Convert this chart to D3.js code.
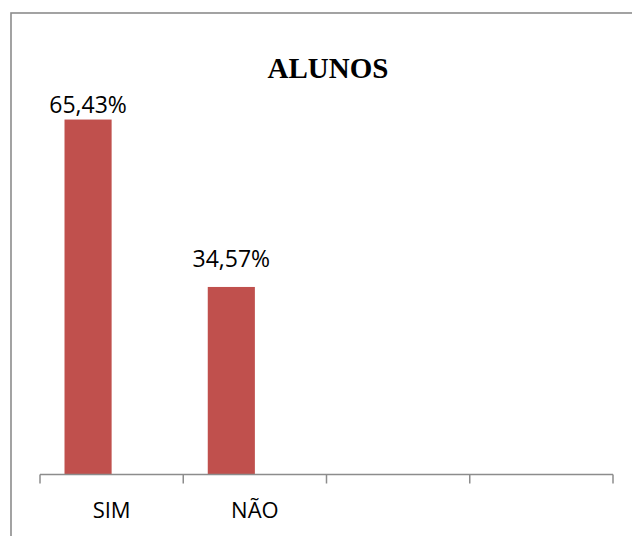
<!DOCTYPE html>
<html>
<head>
<meta charset="utf-8">
<script src="https://cdn.jsdelivr.net/npm/d3@7"></script>
<style>
  html, body { margin: 0; padding: 0; background: #fff; }
  svg { display: block; }
</style>
</head>
<body>
<div class="chart"></div>
<script>
// chart data
const title = 'ALUNOS';
const categories = ['SIM', 'NÃO', '', ' '];
const seriesNames = ['Alunos', 'vazio'];
const seriesValues = [65.43, 34.57, null, null];
const emptySeries = [null, null, null, null];
const valueLabels = ['65,43%', '34,57%', '', ''];

const width = 632;
const height = 536;
const plotLeft = 40, plotRight = 613;
const baseY = 474.5;

const svg = d3.select('.chart')
  .append('svg')
  .attr('width', width)
  .attr('height', height);

// outer frame
svg.append('rect')
  .attr('x', 11)
  .attr('y', 13)
  .attr('width', 640)
  .attr('height', 560)
  .attr('fill', 'none')
  .attr('stroke', '#8c8c8c')
  .attr('stroke-width', 1.6);

svg.append('text')
  .attr('x', 328)
  .attr('y', 78)
  .attr('text-anchor', 'middle')
  .style('font-family', '"Liberation Serif", "Times New Roman", serif')
  .style('font-weight', 'bold')
  .style('font-size', '29px')
  .text(title);

let x = d3.scaleBand()
  .domain(categories)
  .range([plotLeft, plotRight])
  .paddingInner(0)
  .paddingOuter(0);

// two series per slot, the second one is empty
let x1 = d3.scaleBand()
  .domain(seriesNames)
  .range([0, x.bandwidth()])
  .paddingInner(0)
  .paddingOuter(0.52);

let y = d3.scaleLinear()
  .domain([0, 70])
  .range([baseY, baseY - 70 * 5.425]);

let rows = categories.map(function(c, i) {
  return {cat: c, values: [seriesValues[i], emptySeries[i]], label: valueLabels[i]};
});

let groups = svg.selectAll('.grp')
  .data(rows)
  .enter()
  .append('g')
  .attr('class', 'grp')
  .attr('transform', function(d) { return 'translate(' + x(d.cat) + ',0)'; });

groups.selectAll('rect')
  .data(function(d) {
    return d.values.map(function(v, j) { return {s: seriesNames[j], v: v}; })
      .filter(function(e) { return e.v != null; });
  })
  .enter()
  .append('rect')
  .attr('x', function(e) { return x1(e.s); })
  .attr('width', x1.bandwidth())
  .attr('y', function(e) { return y(e.v); })
  .attr('height', function(e) { return baseY - y(e.v); })
  .attr('fill', '#C0504D');

// data labels, kept inside the plot area
groups.filter(function(d) { return d.values[0] != null; })
  .append('text')
  .attr('x', x1(seriesNames[0]) + x1.bandwidth() / 2)
  .attr('y', function(d) { return Math.max(y(d.values[0]) - 20, 113); })
  .attr('text-anchor', 'middle')
  .style('font-family', '"Open Sans", sans-serif')
  .style('font-size', '23px')
  .attr('fill', '#000')
  .text(function(d) { return d.label; });

// category axis
let axis = d3.axisBottom(x).tickSize(9).tickFormat('');
let axisG = svg.append('g')
  .attr('transform', 'translate(0,' + baseY + ')')
  .call(axis);
axisG.selectAll('.tick').remove();
axisG.select('.domain').remove();

axisG.append('line')
  .attr('x1', plotLeft).attr('x2', plotRight)
  .attr('y1', 0).attr('y2', 0)
  .attr('stroke', '#8c8c8c')
  .attr('stroke-width', 1.5);

let edges = categories.map(function(c) { return x(c); }).concat([plotRight]);
axisG.selectAll('.edge')
  .data(edges)
  .enter()
  .append('line')
  .attr('class', 'edge')
  .attr('x1', function(d) { return d; })
  .attr('x2', function(d) { return d; })
  .attr('y1', 0).attr('y2', 9)
  .attr('stroke', '#8c8c8c')
  .attr('stroke-width', 1.5);

svg.selectAll('.catlabel')
  .data(categories)
  .enter()
  .append('text')
  .attr('class', 'catlabel')
  .attr('x', function(d) { return x(d) + x.bandwidth() / 2; })
  .attr('y', 518)
  .attr('text-anchor', 'middle')
  .style('font-family', '"Open Sans", sans-serif')
  .style('font-size', '22px')
  .attr('fill', '#000')
  .text(function(d) { return d.trim(); });
</script>
</body>
</html>
